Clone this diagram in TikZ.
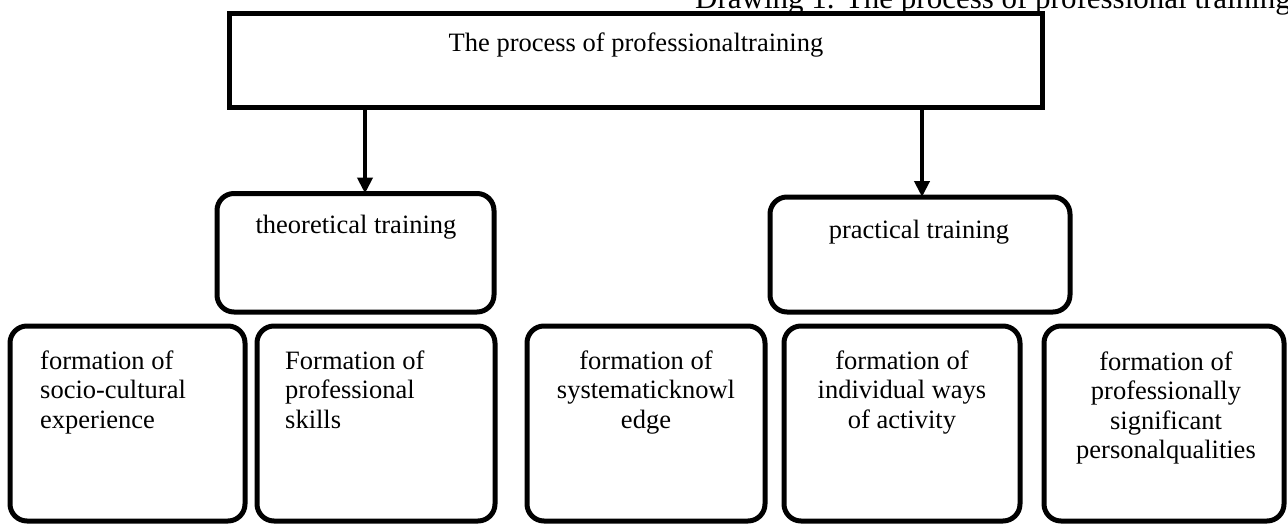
\documentclass[tikz,border=0pt]{standalone}
\usepackage{fontspec}
\setmainfont{Liberation Serif}
\usetikzlibrary{arrows.meta}
\tikzset{
  sharpbox/.style={draw, line width=5pt, inner sep=0pt, outer sep=0pt},
  roundbox/.style={draw, line width=5pt, rounded corners=17pt, inner sep=0pt, outer sep=0pt},
  txt/.style={inner sep=0pt, font=\fontsize{26.5}{29.5}\selectfont},
  ttl/.style={inner sep=0pt, font=\fontsize{31}{34}\selectfont},
  arr/.style={line width=4.5pt, -{Triangle[width=15pt,length=16pt]}},
}
\begin{document}
\begin{tikzpicture}[x=1pt,y=-1pt]
\useasboundingbox (0,0) rectangle (1288,524);
% title
\node[ttl, anchor=base west] (title) at (695,9) {Drawing 1. The process of professional training};
% boxes
\node[sharpbox, minimum width=813pt, minimum height=94pt] (top) at (635.5,61) {};
\node[roundbox, minimum width=277pt, minimum height=118.5pt] (theo) at (355.5,252.75) {};
\node[roundbox, minimum width=300pt, minimum height=115pt] (prac) at (920,254.5) {};
\node[roundbox, minimum width=235pt, minimum height=195pt] (b1) at (127.5,423.5) {};
\node[roundbox, minimum width=238pt, minimum height=195pt] (b2) at (376,423.5) {};
\node[roundbox, minimum width=238pt, minimum height=195pt] (b3) at (646,423.5) {};
\node[roundbox, minimum width=236pt, minimum height=195pt] (b4) at (902,423.5) {};
\node[roundbox, minimum width=240pt, minimum height=195pt] (b5) at (1164,423.5) {};
% texts (base anchor of a multi-line node = baseline of its last line)
\node[txt, anchor=base] (toptext) at (636,52) {The process of professionaltraining};
\node[txt, anchor=base] (theotext) at (356,233) {theoretical training};
\node[txt, anchor=base] (practext) at (919,238) {practical training};
\node[txt, anchor=base west, align=left] (t1) at (40,428) {formation of\\socio-cultural\\experience};
\node[txt, anchor=base west, align=left] (t2) at (285,428) {Formation of\\professional\\skills};
\node[txt, anchor=base, align=center] (t3) at (646,428) {formation of\\systematicknowl\\edge};
\node[txt, anchor=base, align=center] (t4) at (902,428) {formation of\\individual ways\\of activity};
\node[txt, anchor=base, align=center] (t5) at (1166,458.5) {formation of\\professionally\\significant\\personalqualities};
% arrows
\coordinate (a1) at (365,193.5);
\coordinate (a2) at (922,197);
\draw[arr] (top.south -| a1) -- (a1);
\draw[arr] (top.south -| a2) -- (a2);
\end{tikzpicture}
\end{document}
